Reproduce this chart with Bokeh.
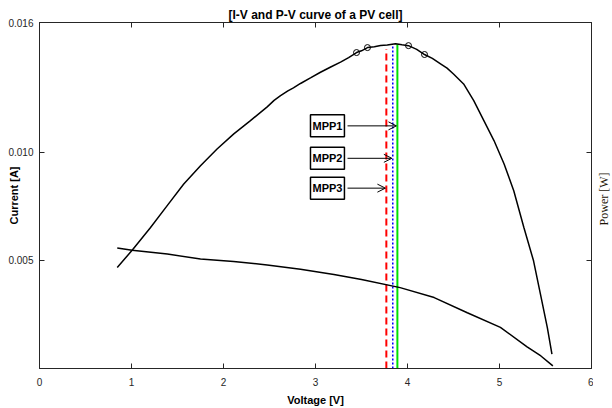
import math
from bokeh.plotting import figure
from bokeh.layouts import row
from bokeh.models import Range1d, LinearAxis, FixedTicker, Label, Arrow, OpenHead, CustomJSTickFormatter
from bokeh.embed import file_html
from bokeh.resources import INLINE

# P-V curve (drawn on the current scale)
pv_voltage = [0.845, 1.007, 1.207, 1.388, 1.568, 1.75, 1.93, 2.112, 2.293, 2.475, 2.55, 2.62, 2.70, 2.76,
              2.837, 2.95, 3.054, 3.16, 3.272, 3.36, 3.446, 3.50, 3.565, 3.64, 3.707, 3.78, 3.87, 3.94,
              4.011, 4.10, 4.185, 4.27, 4.359, 4.43, 4.50, 4.61, 4.72, 4.83, 4.94, 5.05, 5.155, 5.265,
              5.37, 5.445, 5.52, 5.57]
pv_value = [0.00467, 0.00547, 0.00652, 0.00753, 0.00853, 0.00938, 0.01015, 0.01085, 0.01146, 0.01210,
            0.01240, 0.01262, 0.01284, 0.01298, 0.01318, 0.01345, 0.01370, 0.01393, 0.01417, 0.01438,
            0.01461, 0.01469, 0.01484, 0.01488, 0.01494, 0.01496, 0.01502, 0.01497, 0.01493, 0.01476,
            0.01452, 0.01434, 0.01409, 0.01389, 0.01362, 0.01316, 0.01239, 0.01146, 0.01054, 0.00946,
            0.00822, 0.00652, 0.00498, 0.00344, 0.00189, 0.00066]

# I-V curve
iv_voltage = [0.845, 1.007, 1.39, 1.75, 2.11, 2.475, 2.837, 3.2, 3.5, 3.92, 4.29, 4.65, 5.01, 5.30, 5.45, 5.58]
iv_current = [0.00557, 0.00547, 0.00529, 0.00506, 0.00495, 0.00479, 0.00459, 0.00435, 0.00412, 0.00374,
              0.00328, 0.00258, 0.00190, 0.00100, 0.00058, 0.00012]

# marked points on the P-V curve
mark_voltage = [3.446, 3.565, 4.011, 4.185]
mark_value = [0.01461, 0.01484, 0.01493, 0.01452]

# maximum power points
mpp_names = ["MPP1", "MPP2", "MPP3"]
mpp_voltage = [3.89, 3.84, 3.77]
mpp_top = [0.01500, 0.01493, 0.01478]
mpp_label_y = [0.01122, 0.00972, 0.00834]
mpp_colors = ["#00e000", "#0000ff", "#ff0000"]
mpp_dash = ["solid", "2 2", "7 4"]
mpp_width = [2, 1.5, 2]

x_ticks = [0, 1, 2, 3, 4, 5, 6]
y_ticks = [0.005, 0.010, 0.016]

FONT = "Liberation Sans"
AX = "#262626"

p = figure(width=593, height=408, output_backend="svg", toolbar_location=None,
           x_range=Range1d(0, 6), y_range=Range1d(0, 0.016),
           min_border_left=39, min_border_right=2, min_border_top=22, min_border_bottom=40)
p.grid.visible = False
p.outline_line_color = AX
p.outline_line_width = 1
p.background_fill_color = "white"
p.border_fill_color = "white"

p.title.text = "[I-V and P-V curve of a PV cell]"
p.title.align = "center"
p.title.text_font = FONT
p.title.text_font_style = "bold"
p.title.text_font_size = "12px"
p.title.text_color = "black"
p.title.standoff = 2

xa = p.xaxis[0]
xa.ticker = FixedTicker(ticks=x_ticks)
xa.axis_label = "Voltage [V]"
xa.axis_label_standoff = 5
xa.major_label_standoff = 9

ya = p.yaxis[0]
ya.ticker = FixedTicker(ticks=y_ticks)
ya.formatter = CustomJSTickFormatter(code="return tick.toFixed(3);")
ya.major_label_standoff = 6
ya.axis_label = "Current [A]"
ya.axis_label_standoff = -15

for ax in (xa, ya):
    ax.major_tick_in = 5
    ax.major_tick_out = 0
    ax.minor_tick_in = 0
    ax.minor_tick_out = 0
    ax.axis_line_color = AX
    ax.major_tick_line_color = AX
    ax.major_label_text_font = FONT
    ax.major_label_text_font_size = "10px"
    ax.major_label_text_color = AX
    ax.axis_label_text_font = FONT
    ax.axis_label_text_font_style = "bold"
    ax.axis_label_text_font_size = "11px"
    ax.axis_label_text_color = "black"

blank = CustomJSTickFormatter(code="return '';")
top_ax = LinearAxis(ticker=FixedTicker(ticks=x_ticks), formatter=blank, major_tick_in=5, major_tick_out=0,
                    minor_tick_in=0, minor_tick_out=0, major_label_text_color=None,
                    major_label_standoff=0, axis_line_color=AX, major_tick_line_color=AX)
right_ax = LinearAxis(ticker=FixedTicker(ticks=[0.005, 0.010]), formatter=blank, major_tick_in=5,
                      major_tick_out=0, minor_tick_in=0, minor_tick_out=0, major_label_text_color=None,
                      major_label_standoff=0, axis_line_color=AX, major_tick_line_color=AX)
p.add_layout(top_ax, "above")
p.add_layout(right_ax, "right")

# vertical MPP lines
for v, t, c, d, w in zip(mpp_voltage, mpp_top, mpp_colors, mpp_dash, mpp_width):
    p.segment(x0=[v], y0=[0], x1=[v], y1=[t], line_color=c, line_dash=d, line_width=w)

# curves
p.line(pv_voltage, pv_value, line_color="black", line_width=1.5)
p.line(iv_voltage, iv_current, line_color="black", line_width=1.5)
p.scatter(mark_voltage, mark_value, marker="circle", size=6, fill_color=None,
          line_color="black", line_width=1)

# MPP annotations
box_right = 3.348
box_center = 3.13
for name, v, yv in zip(mpp_names, mpp_voltage, mpp_label_y):
    p.add_layout(Arrow(x_start=box_right, y_start=yv, x_end=v - 0.01, y_end=yv,
                       line_color="black", line_width=1,
                       end=OpenHead(size=8, line_color="black", line_width=1)))
    p.add_layout(Label(x=box_center, y=yv, text=name, text_align="center", text_baseline="middle",
                       text_font=FONT, text_font_style="bold", text_font_size="11px",
                       text_color="black", border_line_color="black", border_line_width=1.5,
                       background_fill_color="white", padding=(2, 5)))

# right-hand strip carrying the power axis title
p2 = figure(width=19, height=408, output_backend="svg", toolbar_location=None,
            x_range=Range1d(0, 19), y_range=Range1d(0, 408), x_axis_type=None, y_axis_type=None,
            min_border=0, outline_line_color=None)
p2.grid.visible = False
p2.add_layout(Label(x=10, y=200, text="Power [W]", angle=math.pi / 2, text_align="center",
                    text_baseline="middle", text_font="Liberation Serif",
                    text_font_size="12px", text_color="#1e1508"))

layout = row(p, p2, spacing=0)
open("out.html", "w").write(file_html(layout, INLINE))
